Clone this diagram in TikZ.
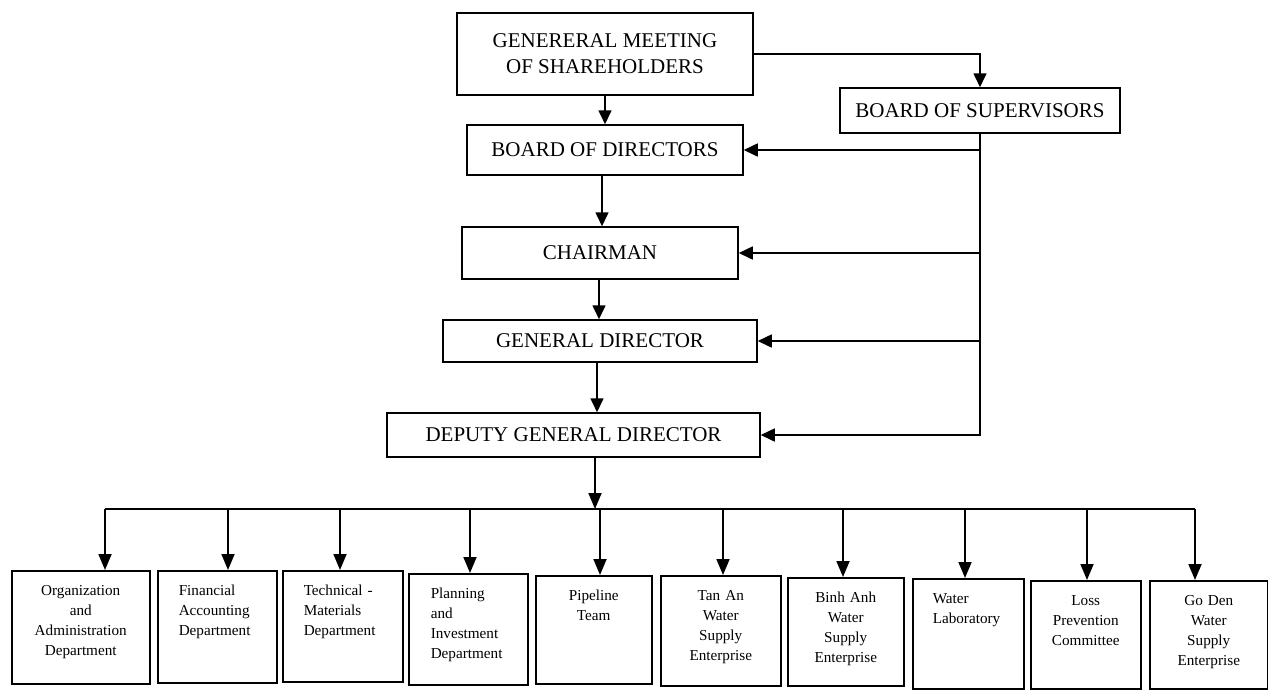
\documentclass[tikz,border=0pt]{standalone}
\usepackage{fontspec}
\setmainfont{Liberation Serif}
\usetikzlibrary{arrows.meta}
\begin{document}
\begin{tikzpicture}[x=1pt,y=-1pt,
  box/.style={draw, line width=1.5pt, inner sep=0pt, align=center, font=\fontsize{21}{26}\selectfont},
  dept/.style={draw, line width=1.5pt, anchor=north west, inner ysep=7pt, text height=18pt, font=\fontsize{15.2}{20}\selectfont},
  arr/.style={line width=1.6pt, -{Triangle[length=14pt,width=13pt]}},
  down/.style={line width=1.8pt, -{Triangle[length=16pt,width=13pt]}}]
\useasboundingbox (0,0) rectangle (1268,689);
\node [box, minimum width=296pt, minimum height=82pt] (gms) at (605,54) {GENERERAL MEETING\\OF SHAREHOLDERS};
\node [box, minimum width=280pt, minimum height=45pt] (sup) at (980,110.5) {BOARD OF SUPERVISORS};
\node [box, minimum width=276pt, minimum height=50pt] (bod) at (605,150) {BOARD OF DIRECTORS};
\node [box, minimum width=276pt, minimum height=52pt] (chair) at (600,253) {CHAIRMAN};
\node [box, minimum width=314pt, minimum height=42pt] (gd) at (600,341) {GENERAL DIRECTOR};
\node [box, minimum width=373pt, minimum height=44pt] (dgd) at (573.5,435) {DEPUTY GENERAL DIRECTOR};
\node [dept, align=center, inner xsep=4pt, text width=130pt, text depth=81pt] (d1) at (11,570) {Organization\\and\\Administration\\Department};
\node [dept, align=left, inner xsep=21pt, text width=77pt, text depth=80pt] (d2) at (157,570) {Financial\\Accounting\\Department};
\node [dept, align=left, inner xsep=21pt, text width=78pt, text depth=79pt] (d3) at (282,570) {Technical -\\Materials\\Department};
\node [dept, align=left, inner xsep=22pt, text width=75pt, text depth=79pt] (d4) at (408,573) {Planning\\and\\Investment\\Department};
\node [dept, align=center, inner xsep=4pt, text width=108pt, text depth=76pt] (d5) at (535,575) {Pipeline\\Team};
\node [dept, align=center, inner xsep=4pt, text width=112pt, text depth=78pt] (d6) at (660,575) {Tan An\\Water\\Supply\\Enterprise};
\node [dept, align=center, inner xsep=4pt, text width=108pt, text depth=76pt] (d7) at (787,577) {Binh Anh\\Water\\Supply\\Enterprise};
\node [dept, align=left, inner xsep=20pt, text width=71pt, text depth=78pt] (d8) at (912,578) {Water\\Laboratory};
\node [dept, align=center, inner xsep=4pt, text width=102pt, text depth=76pt] (d9) at (1030,580) {Loss\\Prevention\\Committee};
\node [dept, align=center, inner xsep=4pt, text width=110pt, text depth=76pt] (d10) at (1149,580) {Go Den\\Water\\Supply\\Enterprise};
\coordinate (bus) at (595,509);
\draw [arr] (gms.south) -- (gms.south |- bod.north);
\draw [arr] (bod.south -| 602,0) -- (chair.north -| 602,0);
\draw [arr] (chair.south -| 599,0) -- (gd.north -| 599,0);
\draw [arr] (gd.south -| 597,0) -- (dgd.north -| 597,0);
\draw [arr] (gms.east) -| (sup.north);
\draw [arr] (sup.south) |- (dgd.east);
\draw [arr] (sup.south |- bod.east) -- (bod.east);
\draw [arr] (sup.south |- chair.east) -- (chair.east);
\draw [arr] (sup.south |- gd.east) -- (gd.east);
\draw [down] (dgd.south -| bus) -- (bus);
\draw [line width=1.8pt] (bus -| 105,0) -- (bus -| 1195,0);
\foreach \n/\x in {d1/105, d2/228, d3/340, d4/470, d5/600, d6/723, d7/843, d8/965, d9/1087, d10/1195}
  \draw [down] (bus -| \x,0) -- (\n.north -| \x,0);
\end{tikzpicture}
\end{document}
